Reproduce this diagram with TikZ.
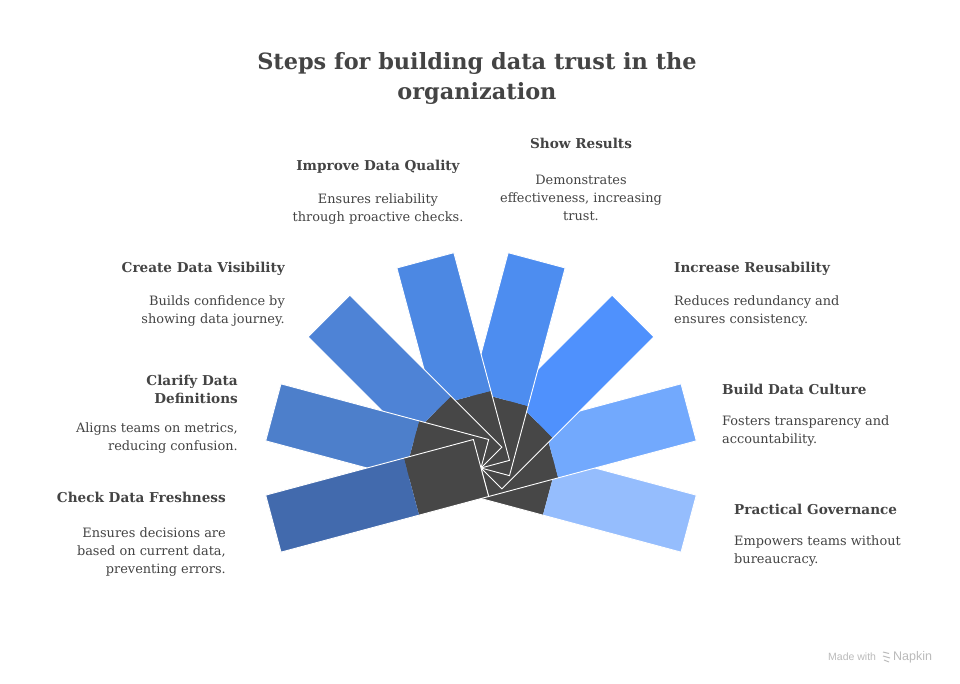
\documentclass[tikz,border=0pt]{standalone}
\usepackage{fontspec}
\setmainfont{DejaVu Serif}
\setsansfont{Liberation Sans}
\definecolor{txt}{HTML}{444444}
\definecolor{darkc}{HTML}{474747}
\definecolor{cFresh}{HTML}{426AAD}
\definecolor{cClar}{HTML}{4D7FCB}
\definecolor{cVis}{HTML}{4E83D6}
\definecolor{cQual}{HTML}{4C88E3}
\definecolor{cRes}{HTML}{4D8DF0}
\definecolor{cReus}{HTML}{4F91FD}
\definecolor{cCult}{HTML}{72A9FD}
\definecolor{cGov}{HTML}{95BDFD}
\definecolor{wm}{HTML}{BBBBBB}
\tikzset{
  bladeout/.style={draw=white, line width=0.9pt, line join=miter},
  head/.style={font=\bfseries\fontsize{13.6}{18}\selectfont, text=txt, inner sep=0pt},
  desc/.style={font=\fontsize{12.9}{18}\selectfont, text=txt, inner sep=0pt},
  ttl/.style={font=\bfseries\fontsize{22.4}{30}\selectfont, text=txt, inner sep=0pt, align=center},
}
\newcommand\myblade[2]{%
  \begin{scope}[shift={(481,468)}, rotate=#1]
    \fill[darkc] (0,-29.5) rectangle (72,29.5);
    \fill[#2] (72,-29.5) rectangle (215,29.5);
    \draw[bladeout] (0,-29.5) rectangle (215,29.5);
  \end{scope}}
\begin{document}
\begin{tikzpicture}[x=1pt,y=-1pt]
\useasboundingbox[fill=white] (0,0) rectangle (960,684);
% blades, bottom first
\myblade{-15}{cGov}
\myblade{15}{cCult}
\myblade{45}{cReus}
\myblade{75}{cRes}
\myblade{105}{cQual}
\myblade{135}{cVis}
\myblade{165}{cClar}
\myblade{195}{cFresh}
% title
\node[ttl] (title) at (477,78) {Steps for building data trust in the\\organization};
% top
\node[head] (resH) at (581,143) {Show Results};
\node[desc, align=center] (resD) at (581,198) {Demonstrates\\effectiveness, increasing\\trust.};
\node[head] (qualH) at (378,167) {Improve Data Quality};
\node[desc, align=center] (qualD) at (378,209) {Ensures reliability\\through proactive checks.};
% left
\node[head, anchor=east] (visH) at (285,269) {Create Data Visibility};
\node[desc, anchor=east, align=right] (visD) at (285,311) {Builds confidence by\\showing data journey.};
\node[head, anchor=east, align=right] (clarH) at (238,389) {Clarify Data\\Definitions};
\node[desc, anchor=east, align=right] (clarD) at (238,438) {Aligns teams on metrics,\\reducing confusion.};
\node[head, anchor=east] (freshH) at (226,497) {Check Data Freshness};
\node[desc, anchor=east, align=right] (freshD) at (226,552) {Ensures decisions are\\based on current data,\\preventing errors.};
% right
\node[head, anchor=west] (reusH) at (674,269) {Increase Reusability};
\node[desc, anchor=west, align=left] (reusD) at (674,311) {Reduces redundancy and\\ensures consistency.};
\node[head, anchor=west] (cultH) at (722,389) {Build Data Culture};
\node[desc, anchor=west, align=left] (cultD) at (722,431) {Fosters transparency and\\accountability.};
\node[head, anchor=west] (govH) at (734,509) {Practical Governance};
\node[desc, anchor=west, align=left] (govD) at (734,551) {Empowers teams without\\bureaucracy.};
% watermark
\node[font=\sffamily\fontsize{10.5}{12}\selectfont, text=wm, inner sep=0pt, anchor=west] (wm1) at (828,657) {Made with};
\node[font=\sffamily\fontsize{12.5}{14}\selectfont, text=wm, inner sep=0pt, anchor=west] (wm2) at (893,657) {Napkin};
\draw[wm, line width=1pt] (883,652) -- (889,653.5) (883,656) -- (890,658) (884,660) -- (889,662);
\end{tikzpicture}
\end{document}
